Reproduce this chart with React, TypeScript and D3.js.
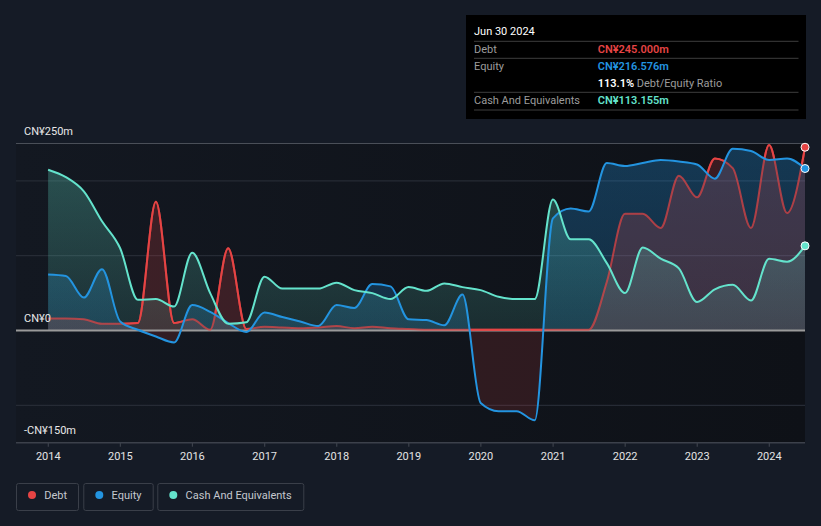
import React from "react";
import * as d3 from "d3";

const dates = [
  "2013-12-31", "2014-03-31", "2014-06-30", "2014-09-30", "2014-12-31",
  "2015-03-31", "2015-06-30", "2015-09-30", "2015-12-31",
  "2016-03-31", "2016-06-30", "2016-09-30", "2016-12-31",
  "2017-03-31", "2017-06-30", "2017-09-30", "2017-12-31",
  "2018-03-31", "2018-06-30", "2018-09-30", "2018-12-31",
  "2019-03-31", "2019-06-30", "2019-09-30", "2019-12-31",
  "2020-03-31", "2020-06-30", "2020-09-30", "2020-12-31",
  "2021-03-31", "2021-06-30", "2021-09-30", "2021-12-31",
  "2022-03-31", "2022-06-30", "2022-09-30", "2022-12-31",
  "2023-03-31", "2023-06-30", "2023-09-30", "2023-12-31",
  "2024-03-31", "2024-06-30",
];

const debt = [
  16, 16, 15, 9, 9,
  10, 172, 10, 15,
  1, 110, 2, 5,
  4, 3, 4, 6,
  3, 5, 3, 2,
  1, 1, 1, 1,
  1, 1, 1, 1,
  1, 1, 65, 156,
  156, 137, 207, 178,
  230, 217, 137, 248,
  157, 245,
];

const equity = [
  75, 73, 44, 82, 12,
  1, -8, -16, 34,
  25, 10, -2, 24,
  18, 12, 6, 34,
  30, 62, 59, 15,
  14, 7, 48, -97,
  -108, -108, -120, 150,
  163, 159, 224, 220,
  224, 228, 226, 222,
  203, 243, 240, 228,
  230, 216.576,
];

const cash = [
  215, 205, 186, 146, 110,
  41, 42, 32, 104,
  50, 9, 11, 72,
  56, 56, 56, 64,
  54, 50, 42, 58,
  53, 63, 58, 54,
  45, 42, 42, 175,
  122, 122, 90, 50,
  111, 96, 83, 38,
  55, 61, 40, 96,
  92, 113.155,
];

const yearTicks = [2014, 2015, 2016, 2017, 2018, 2019, 2020, 2021, 2022, 2023, 2024];
const yLabelValues = [250, 0, -150];
const yLabelText = ["CN¥250m", "CN¥0", "-CN¥150m"];
const gridValues = [200, 100, -100];

const tooltipDate = "Jun 30 2024";
const tooltipDebt = "CN¥245.000m";
const tooltipEquity = "CN¥216.576m";
const tooltipRatio = "113.1%";
const tooltipCash = "CN¥113.155m";

const legendItems = ["Debt", "Equity", "Cash And Equivalents"];

const C_DEBT = "#e64444";
const C_EQ = "#2394e0";
const C_CASH = "#64e3cc";

type Pt = { t: Date; debt: number; eq: number; cash: number };

export default function App() {
  const W = 821;
  const H = 526;
  const left = 16;
  const right = 805;

  const data: Pt[] = dates.map((s, i) => ({
    t: new Date(s + "T00:00:00Z"),
    debt: debt[i],
    eq: equity[i],
    cash: cash[i],
  }));

  const x = d3
    .scaleUtc()
    .domain([new Date(Date.UTC(2014, 0, 1)), new Date(Date.UTC(2024, 0, 1))])
    .range([48.3, 769.3]);
  const y = d3.scaleLinear().domain([-150, 250]).range([442.7, 143.5]);
  const y0 = y(0);
  const curve = d3.curveMonotoneX;

  const lineOf = (f: (d: Pt) => number) =>
    d3.line<Pt>().x((d) => x(d.t)).y((d) => y(f(d))).curve(curve)(data) || "";
  const areaOf = (f: (d: Pt) => number) =>
    d3
      .area<Pt>()
      .x((d) => x(d.t))
      .y0(y0)
      .y1((d) => y(f(d)))
      .curve(curve)(data) || "";
  const aboveEq =
    d3
      .area<Pt>()
      .x((d) => x(d.t))
      .y0(0)
      .y1((d) => y(d.eq))
      .curve(curve)(data) || "";

  const last = data[data.length - 1];
  const font = "Roboto, 'Noto Sans', sans-serif";

  const legendBoxes = [
    { x: 16, w: 62, c: C_DEBT },
    { x: 83.3, w: 69.4, c: C_EQ },
    { x: 157.3, w: 146, c: C_CASH },
  ];

  return (
    <svg
      width={W}
      height={H}
      style={{ position: "absolute", left: 0, top: 0, display: "block" }}
      fontFamily={font}
    >
      <defs>
        <linearGradient id="plotBg" x1="0" x2="1" y1="0" y2="0">
          <stop offset="0" stopColor="#131821" />
          <stop offset="1" stopColor="#0e1117" />
        </linearGradient>
        <linearGradient id="gEq" gradientUnits="userSpaceOnUse" x1="0" x2="0" y1={143} y2={y0}>
          <stop offset="0" stopColor={C_EQ} stopOpacity={0.3} />
          <stop offset="1" stopColor={C_EQ} stopOpacity={0.2} />
        </linearGradient>
        <linearGradient id="gCash" gradientUnits="userSpaceOnUse" x1="0" x2="0" y1={143} y2={y0}>
          <stop offset="0" stopColor={C_CASH} stopOpacity={0.3} />
          <stop offset="1" stopColor={C_CASH} stopOpacity={0.12} />
        </linearGradient>
        <clipPath id="clipAboveZero">
          <rect x={left} y={0} width={right - left} height={y0} />
        </clipPath>
        <clipPath id="clipBelowZero">
          <rect x={left} y={y0} width={right - left} height={H - y0} />
        </clipPath>
        <clipPath id="clipAboveEq">
          <path d={aboveEq} />
        </clipPath>
      </defs>

      <rect x={0} y={0} width={W} height={H} fill="#151b26" />
      <rect x={left} y={y(250)} width={right - left} height={y(-150) - y(250)} fill="url(#plotBg)" />

      {gridValues.map((v) => (
        <line key={v} x1={left} x2={right} y1={y(v)} y2={y(v)} stroke="#262b35" strokeWidth={1.2} />
      ))}
      <line x1={left} x2={right} y1={y(250)} y2={y(250)} stroke="#4a4f58" strokeWidth={1} />

      {/* fills */}
      <path d={areaOf((d) => d.eq)} fill="url(#gEq)" clipPath="url(#clipAboveZero)" />
      <path d={areaOf((d) => d.debt)} fill={C_DEBT} fillOpacity={0.2} />
      <path d={areaOf((d) => d.eq)} fill={C_DEBT} fillOpacity={0.15} clipPath="url(#clipBelowZero)" />
      <path d={areaOf((d) => d.cash)} fill="url(#gCash)" />

      <line x1={left} x2={right} y1={y0} y2={y0} stroke="#9a9a9a" strokeWidth={2} />

      {/* lines */}
      <path d={lineOf((d) => d.debt)} fill="none" stroke={C_DEBT} strokeOpacity={0.7} strokeWidth={2} />
      <path
        d={lineOf((d) => d.debt)}
        fill="none"
        stroke={C_DEBT}
        strokeWidth={2}
        clipPath="url(#clipAboveEq)"
      />
      <path d={lineOf((d) => d.eq)} fill="none" stroke={C_EQ} strokeWidth={2} />
      <path d={lineOf((d) => d.cash)} fill="none" stroke={C_CASH} strokeWidth={2} />

      <circle cx={x(last.t)} cy={y(last.debt)} r={4} fill={C_DEBT} stroke="#ffffff" strokeWidth={1} />
      <circle cx={x(last.t)} cy={y(last.eq)} r={4} fill={C_EQ} stroke="#ffffff" strokeWidth={1} />
      <circle cx={x(last.t)} cy={y(last.cash)} r={4} fill={C_CASH} stroke="#ffffff" strokeWidth={1} />

      {/* x axis */}
      <line x1={left} x2={right} y1={y(-150)} y2={y(-150)} stroke="#3c414b" strokeWidth={1.5} />
      {yearTicks.map((yr) => {
        const xx = x(new Date(Date.UTC(yr, 0, 1)));
        return (
          <g key={yr}>
            <line x1={xx} x2={xx} y1={y(-150)} y2={y(-150) + 4} stroke="#3c414b" strokeWidth={1.2} />
            <text x={xx} y={460} textAnchor="middle" fontSize={11} fill="#e4e4e4">
              {yr}
            </text>
          </g>
        );
      })}

      {/* y labels */}
      {yLabelValues.map((v, i) => (
        <text key={v} x={24} y={y(v) - 8.5} fontSize={11} fill="#e8e8e8">
          {yLabelText[i]}
        </text>
      ))}

      {/* tooltip */}
      <rect x={466} y={15} width={340} height={104} fill="#000000" />
      <text x={474} y={34.5} fontSize={11} fill="#ffffff">
        {tooltipDate}
      </text>
      {[41.3, 58.3, 92.3, 110].map((yy) => (
        <line key={yy} x1={474} x2={798.5} y1={yy} y2={yy} stroke="#3e3e3e" strokeWidth={1} />
      ))}
      <text x={474} y={52.5} fontSize={11} fill="#9c9c9c">Debt</text>
      <text x={597.7} y={52.5} fontSize={11} fill={C_DEBT} fontWeight={600}>{tooltipDebt}</text>
      <text x={474} y={69.5} fontSize={11} fill="#9c9c9c">Equity</text>
      <text x={597.7} y={69.5} fontSize={11} fill={C_EQ} fontWeight={600}>{tooltipEquity}</text>
      <text x={597.7} y={86.7} fontSize={11} fill="#9c9c9c">
        <tspan fill="#ffffff" fontWeight={600}>{tooltipRatio}</tspan>
        <tspan> Debt/Equity Ratio</tspan>
      </text>
      <text x={474} y={104} fontSize={11} fill="#9c9c9c">Cash And Equivalents</text>
      <text x={597.7} y={104} fontSize={11} fill={C_CASH} fontWeight={600}>{tooltipCash}</text>

      {/* legend */}
      {legendBoxes.map((b, i) => (
        <g key={i}>
          <rect x={b.x + 0.5} y={483.5} width={b.w} height={27} rx={2} fill="none" stroke="#3a3f49" strokeWidth={1} />
          <circle cx={b.x + 16} cy={495} r={4} fill={b.c} />
          <text x={b.x + 28.3} y={499} fontSize={11} fill="#c4c8ce">
            {legendItems[i]}
          </text>
        </g>
      ))}
    </svg>
  );
}
